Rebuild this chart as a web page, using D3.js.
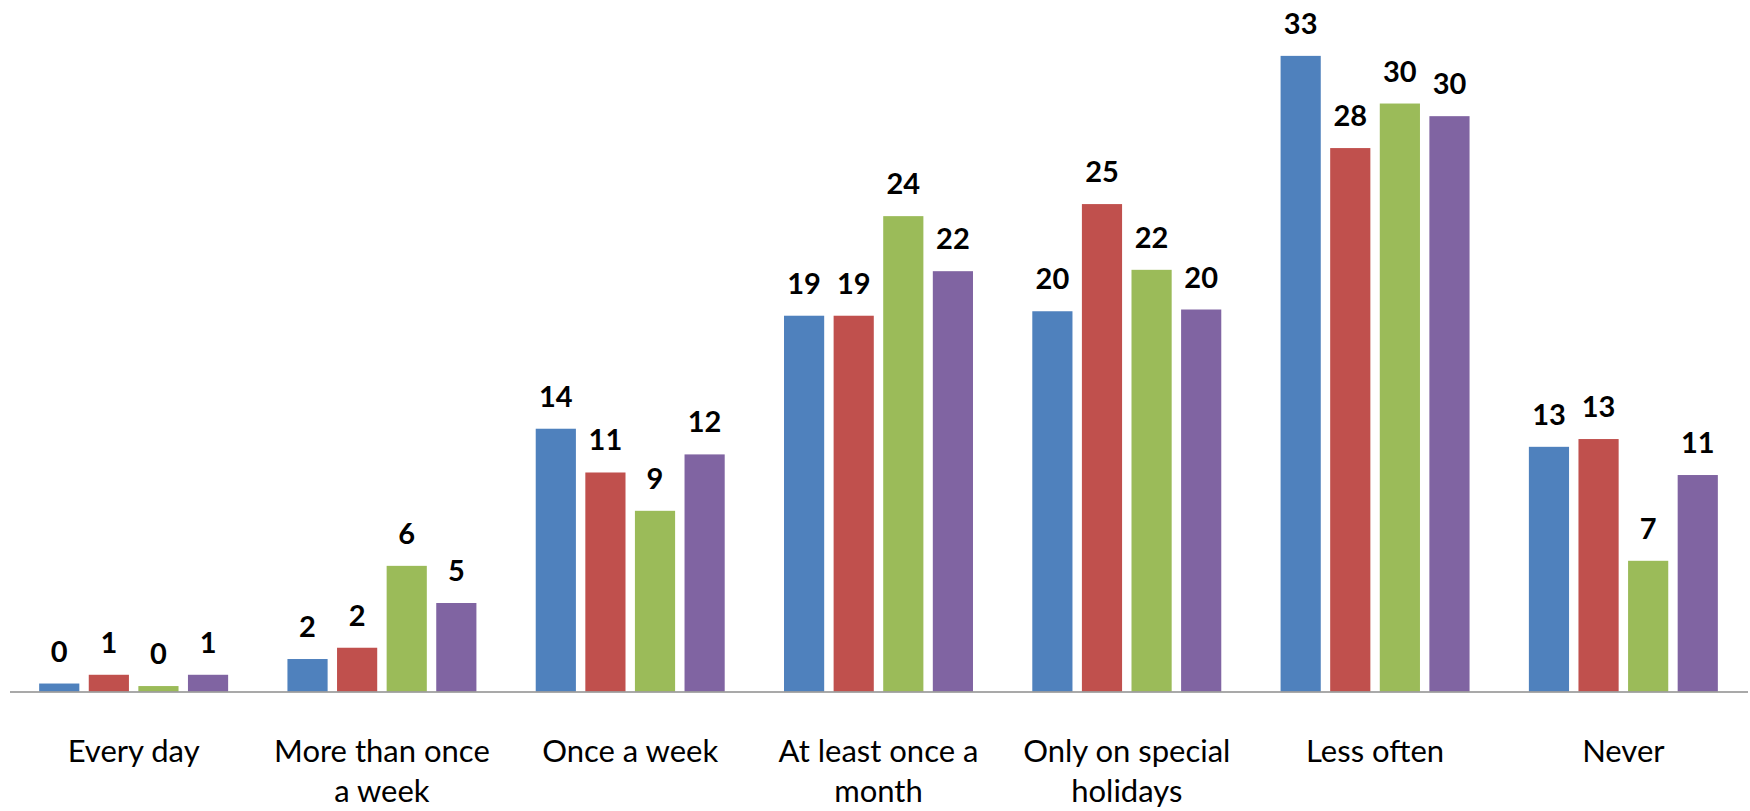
<!DOCTYPE html>
<html>
<head>
<meta charset="utf-8">
<script src="https://cdn.jsdelivr.net/npm/d3@7"></script>
<style>
  html, body { margin: 0; padding: 0; background: #ffffff; }
  svg { display: block; }
</style>
</head>
<body>
<svg id="chart" width="1750" height="811"></svg>
<script>
// ---- Data ----
const categories = ["Every day", "More than once a week", "Once a week", "At least once a month", "Only on special holidays", "Less often", "Never"];
const categoryLines = [["Every day"], ["More than once", "a week"], ["Once a week"], ["At least once a", "month"], ["Only on special", "holidays"], ["Less often"], ["Never"]];
const seriesNames = ["Series 1", "Series 2", "Series 3", "Series 4"];
const series1 = [0.41, 1.67, 13.51, 19.32, 19.55, 32.68, 12.58];
const series2 = [0.86, 2.25, 11.26, 19.32, 25.06, 27.94, 12.98];
const series3 = [0.28, 6.46, 9.29, 24.44, 21.68, 30.23, 6.72];
const series4 = [0.86, 4.55, 12.19, 21.61, 19.64, 29.58, 11.13];
const seriesColors = ["#4F81BD", "#C0504D", "#9BBB59", "#8064A2"];
const yDomain = [0, 35];

const allSeries = [series1, series2, series3, series4];

// ---- Layout ----
const svg = d3.select("#chart");
const baseY = 691.5;
const topY = baseY - 35 * 19.45;
const groupWidth = 198.4;

const y = d3.scaleLinear().domain(yDomain).range([baseY, topY]);
const x0 = d3.scaleBand().domain(categories).range([9.5, 1747.5]).padding(0);
const x1 = d3.scaleBand().domain(seriesNames).range([0, groupWidth]).paddingInner(0.19).paddingOuter(0.095);
const color = d3.scaleOrdinal().domain(seriesNames).range(seriesColors);
const groupOffset = (x0.bandwidth() - groupWidth) / 2;

const data = [];
categories.forEach((c, i) => {
  seriesNames.forEach((s, j) => {
    data.push({ cat: c, ser: s, value: allSeries[j][i] });
  });
});

// Bars
const bars = svg.append("g").attr("class", "bars");
bars.selectAll("rect")
  .data(data)
  .join("rect")
  .attr("x", d => x0(d.cat) + groupOffset + x1(d.ser))
  .attr("y", d => y(d.value))
  .attr("width", x1.bandwidth())
  .attr("height", d => y(0) - y(d.value))
  .attr("fill", d => color(d.ser));

// Axis line (category axis)
const axis = d3.axisBottom(x0).tickSize(0).tickFormat("");
const axisG = svg.append("g").attr("transform", `translate(0,${baseY})`).call(axis);
axisG.select(".domain").attr("stroke", "#8c8c8c").attr("stroke-width", 1.6);

// Data labels
svg.append("g").attr("class", "labels")
  .selectAll("text")
  .data(data)
  .join("text")
  .attr("x", d => x0(d.cat) + groupOffset + x1(d.ser) + x1.bandwidth() / 2)
  .attr("y", d => y(d.value) - 22)
  .attr("text-anchor", "middle")
  .attr("font-family", "Lato, 'Open Sans', sans-serif")
  .attr("font-weight", "bold")
  .attr("font-size", 29)
  .attr("fill", "#000")
  .text(d => Math.round(d.value));

// Category labels
const catG = svg.append("g").attr("class", "cats");
categories.forEach((c, i) => {
  const t = catG.append("text")
    .attr("x", x0(c) + x0.bandwidth() / 2)
    .attr("y", 762)
    .attr("text-anchor", "middle")
    .attr("font-family", "Lato, 'Open Sans', sans-serif")
    .attr("font-size", 31)
    .attr("fill", "#000");
  categoryLines[i].forEach((line, k) => {
    t.append("tspan")
      .attr("x", x0(c) + x0.bandwidth() / 2)
      .attr("dy", k === 0 ? 0 : 40)
      .text(line);
  });
});
</script>
</body>
</html>
